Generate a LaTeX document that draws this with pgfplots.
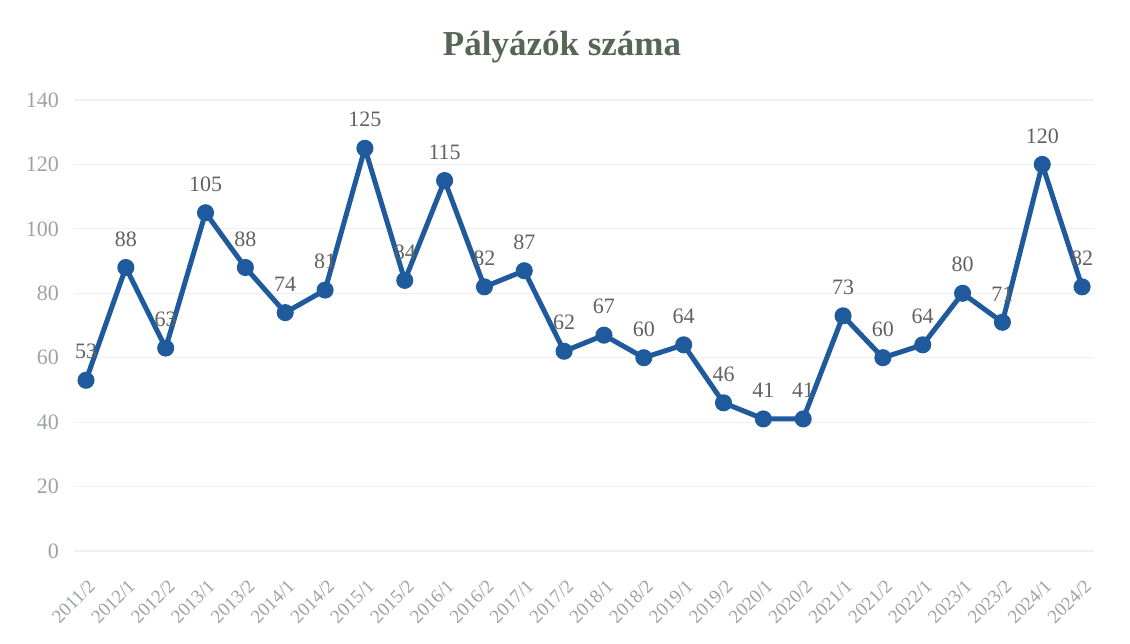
\documentclass[border=0pt]{standalone}
\usepackage{fontspec}
\setmainfont{Liberation Serif}
\usepackage{pgfplots}
\pgfplotsset{compat=1.18}
\definecolor{linec}{HTML}{1F5B9C}
\definecolor{titlec}{HTML}{556655}
\definecolor{tickc}{HTML}{9DA39D}
\definecolor{lblc}{HTML}{5F625F}
\definecolor{gridc}{HTML}{F0F0F0}
\begin{document}
\begin{tikzpicture}
\useasboundingbox (0,0) rectangle (565pt,321.5pt);
\node[font=\bfseries\fontsize{17.5}{20}\selectfont, text=titlec] at (281pt,298pt) {Pályázók száma};
\begin{axis}[
  at={(43pt,46pt)}, anchor=origin,
  scale only axis, width=510pt, height=225.5pt,
  xmin=-0.3, xmax=25.3, ymin=0, ymax=140,
  ytick={0,20,...,140},
  xtick={0,...,25},
  xticklabels={2011/2,2012/1,2012/2,2013/1,2013/2,2014/1,2014/2,2015/1,2015/2,2016/1,2016/2,2017/1,2017/2,2018/1,2018/2,2019/1,2019/2,2020/1,2020/2,2021/1,2021/2,2022/1,2023/1,2023/2,2024/1,2024/2},
  x tick label style={rotate=45, anchor=north east, font=\fontsize{9.5}{10}\selectfont, text=tickc, inner sep=1pt, xshift=-8pt, yshift=-9pt},
  y tick label style={font=\fontsize{11}{12}\selectfont, text=tickc, xshift=-4pt},
  /pgf/number format/assume math mode=true,
  axis line style={draw=none},
  major tick length=0pt,
  ymajorgrids, grid style={gridc, line width=0.6pt},
  nodes near coords,
  every node near coord/.append style={font=\fontsize{11}{12}\selectfont, text=lblc, yshift=6pt},
  clip=false,
]
\addplot[color=linec, line width=2.5pt, mark=*, mark size=3pt, mark options={fill=linec, draw=linec}] coordinates {
(0,53) (1,88) (2,63) (3,105) (4,88) (5,74) (6,81) (7,125) (8,84) (9,115) (10,82) (11,87) (12,62) (13,67) (14,60) (15,64) (16,46) (17,41) (18,41) (19,73) (20,60) (21,64) (22,80) (23,71) (24,120) (25,82)
};
\end{axis}
\end{tikzpicture}
\end{document}
